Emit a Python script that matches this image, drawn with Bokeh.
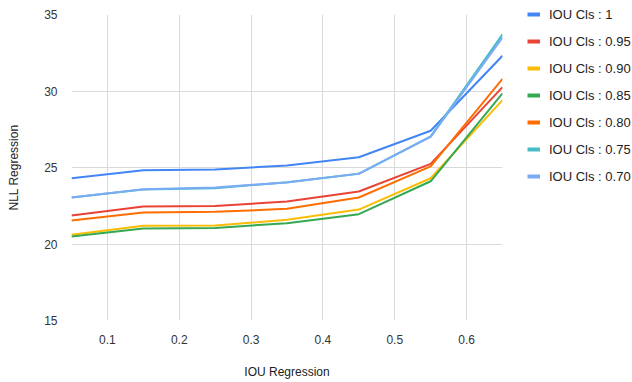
from bokeh.plotting import figure
from bokeh.models import Range1d, FixedTicker, Legend, LegendItem
from bokeh.embed import file_html
from bokeh.resources import INLINE

# IOU regression thresholds (x) and NLL regression per classification IOU series
iou_reg = [0.05, 0.15, 0.25, 0.35, 0.45, 0.55, 0.65]

series_names = ["IOU Cls : 1", "IOU Cls : 0.95", "IOU Cls : 0.90", "IOU Cls : 0.85",
                "IOU Cls : 0.80", "IOU Cls : 0.75", "IOU Cls : 0.70"]

nll_cls_100 = [24.30, 24.82, 24.87, 25.13, 25.67, 27.40, 32.30]
nll_cls_095 = [21.86, 22.45, 22.48, 22.78, 23.43, 25.24, 30.25]
nll_cls_090 = [20.60, 21.19, 21.21, 21.58, 22.25, 24.30, 29.40]
nll_cls_085 = [20.49, 21.01, 21.05, 21.36, 21.95, 24.10, 29.85]
nll_cls_080 = [21.54, 22.06, 22.10, 22.30, 23.04, 25.07, 30.80]
nll_cls_075 = [23.04, 23.56, 23.65, 24.04, 24.59, 27.03, 33.70]
nll_cls_070 = [23.04, 23.58, 23.70, 24.02, 24.60, 27.00, 33.50]

series_values = [nll_cls_100, nll_cls_095, nll_cls_090, nll_cls_085,
                 nll_cls_080, nll_cls_075, nll_cls_070]

colors = ["#4285F4", "#EA4335", "#FBBC04", "#34A853", "#FF6D01", "#46BDC6", "#7BAAF7"]

x_ticks = [0.1, 0.2, 0.3, 0.4, 0.5, 0.6]
y_ticks = [15, 20, 25, 30, 35]

FONT = "Liberation Sans"
NAN = float("nan")

p = figure(frame_width=431, frame_height=306, output_backend="svg", toolbar_location=None,
           x_range=Range1d(0.05, 0.65), y_range=Range1d(15, 35),
           min_border_left=71, min_border_right=0, min_border_top=14,
           min_border_bottom=62)
p.outline_line_color = None
p.background_fill_color = "white"
p.border_fill_color = "white"

for ax in (p.xaxis[0], p.yaxis[0]):
    ax.axis_line_color = None
    ax.major_tick_line_color = None
    ax.minor_tick_line_color = None
    ax.major_label_text_font = FONT
    ax.major_label_text_font_size = "12px"
    ax.major_label_text_color = "#333333"
    ax.axis_label_text_font = FONT
    ax.axis_label_text_font_size = "12px"
    ax.axis_label_text_font_style = "normal"
    ax.axis_label_text_color = "#222222"

p.xaxis.ticker = FixedTicker(ticks=x_ticks)
p.yaxis.ticker = FixedTicker(ticks=y_ticks)
p.xaxis.major_label_standoff = 8
p.yaxis.major_label_standoff = 8
p.xaxis.axis_label = "IOU Regression"
p.yaxis.axis_label = "NLL Regression"
p.xaxis.axis_label_standoff = 18
p.yaxis.axis_label_standoff = 20

p.xgrid.ticker = FixedTicker(ticks=x_ticks)
p.ygrid.ticker = FixedTicker(ticks=y_ticks)
p.xgrid.grid_line_color = "#d9d9d9"
p.ygrid.grid_line_color = "#d9d9d9"

items = []
for name, vals, col in zip(series_names, series_values, colors):
    p.line(iou_reg, vals, line_color=col, line_width=2)
    # thicker key swatch for the legend only; its single point is NaN so nothing is plotted
    swatch = p.line([NAN], [NAN], line_color=col, line_width=4)
    items.append(LegendItem(label=name, renderers=[swatch]))

legend = Legend(items=items, location=(25, 134), padding=0, margin=0,
                border_line_color=None, background_fill_alpha=0,
                glyph_width=13, glyph_height=20, label_height=20,
                label_standoff=9, spacing=7,
                label_text_font=FONT, label_text_font_size="13px",
                label_text_font_style="normal",
                label_text_color="#222222")
p.add_layout(legend, "right")

open("out.html", "w").write(file_html(p, INLINE))
